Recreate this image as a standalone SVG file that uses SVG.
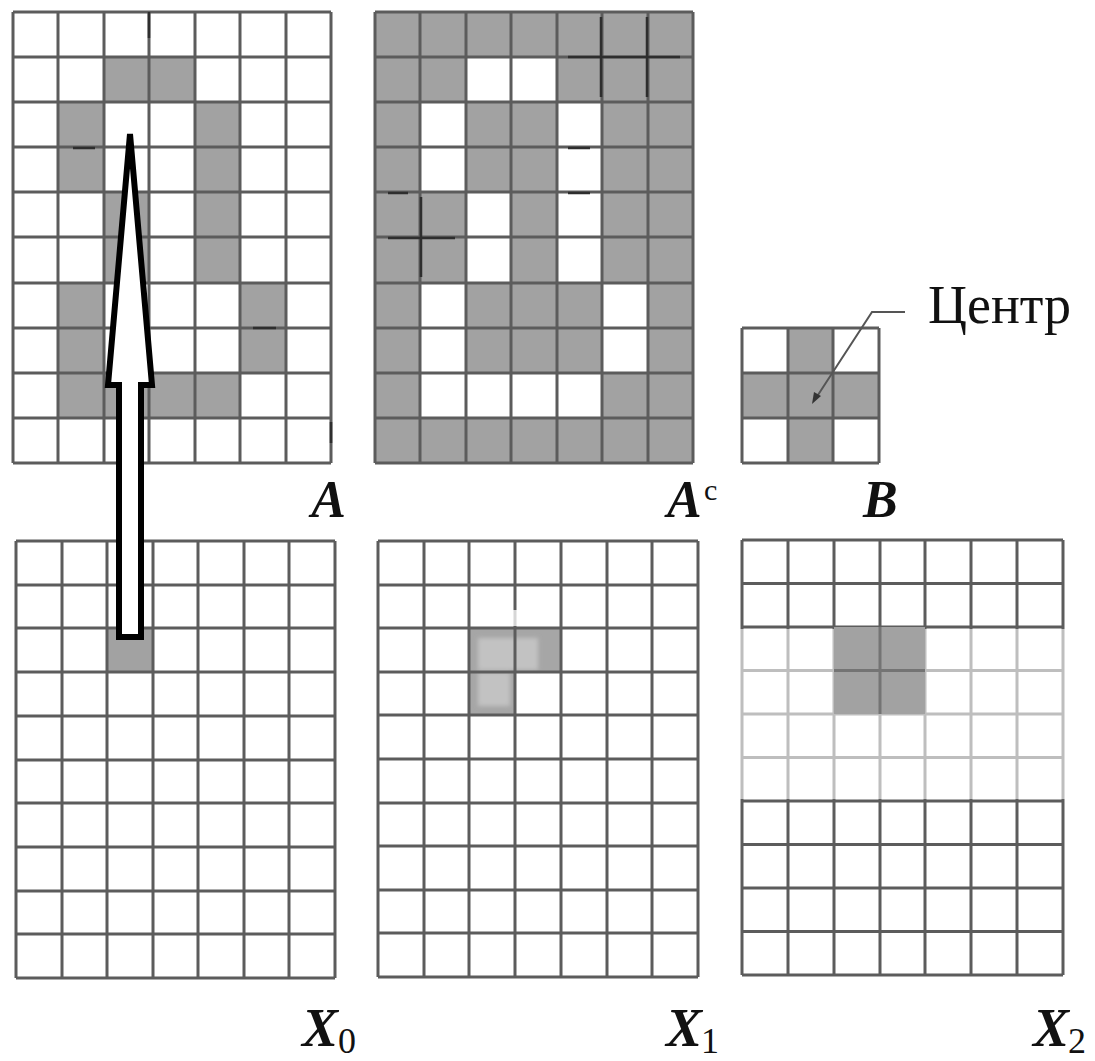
<svg xmlns="http://www.w3.org/2000/svg" width="1095" height="1061" viewBox="0 0 1095 1061">
<defs>
<style>
.grid{fill:none;stroke:#5c5c5c;stroke-width:3}
.cell{fill:#a2a2a2}
.white{fill:#ffffff}
.art{stroke:#2e2e2e;stroke-width:2.5;fill:none}
.lbl{font-family:"Liberation Serif","Times New Roman",serif;font-weight:bold;font-style:italic;fill:#111}
.sub{font-family:"Liberation Serif","Times New Roman",serif;font-weight:normal;font-style:normal;fill:#111}
</style>
<filter id="soft" x="-10%" y="-10%" width="120%" height="120%"><feGaussianBlur stdDeviation="2"/></filter>
</defs>
<rect width="1095" height="1061" fill="#ffffff"/>

<g id="grid-A">
<rect class="cell" x="104" y="57" width="91" height="45"/>
<rect class="cell" x="58" y="102" width="46" height="90"/>
<rect class="cell" x="195" y="102" width="45" height="181"/>
<rect class="cell" x="104" y="192" width="45" height="91"/>
<rect class="cell" x="58" y="283" width="46" height="135"/>
<rect class="cell" x="240" y="283" width="46" height="90"/>
<rect class="cell" x="104" y="373" width="136" height="45"/>
<path class="grid" d="M13 12V463M58 12V463M104 12V463M149 12V463M195 12V463M240 12V463M286 12V463M331 12V463M13 12H331M13 57H331M13 102H331M13 147H331M13 192H331M13 237H331M13 283H331M13 328H331M13 373H331M13 418H331M13 463H331"/>
<path class="art" d="M73 148H95M253 328H276M149 12V38M331 422V443"/>
</g>

<g id="grid-Ac">
<rect class="cell" x="375" y="12" width="318" height="451"/>
<rect class="white" x="466" y="57" width="91" height="45"/>
<rect class="white" x="420" y="102" width="46" height="90"/>
<rect class="white" x="557" y="102" width="45" height="181"/>
<rect class="white" x="466" y="192" width="45" height="91"/>
<rect class="white" x="420" y="283" width="46" height="135"/>
<rect class="white" x="602" y="283" width="46" height="90"/>
<rect class="white" x="466" y="373" width="136" height="45"/>
<path class="grid" d="M375 12V463M420 12V463M466 12V463M511 12V463M557 12V463M602 12V463M648 12V463M693 12V463M375 12H693M375 57H693M375 102H693M375 147H693M375 192H693M375 237H693M375 283H693M375 328H693M375 373H693M375 418H693M375 463H693"/>
<path class="art" d="M568 57H680M601 17V97M647 17V97M568 148H590M568 193H590M388 193H408M388 238H455M421 197V277"/>
</g>

<g id="grid-B">
<rect class="cell" x="788" y="328" width="45" height="135"/>
<rect class="cell" x="742" y="373" width="137" height="45"/>
<path class="grid" d="M742 328V463M788 328V463M833 328V463M879 328V463M742 328H879M742 373H879M742 418H879M742 463H879"/>
</g>

<g id="grid-X0">
<rect class="cell" x="107" y="628" width="46" height="44"/>
<path class="grid" d="M16 541V978M62 541V978M107 541V978M153 541V978M198 541V978M244 541V978M289 541V978M335 541V978M16 541H335M16 585H335M16 628H335M16 672H335M16 716H335M16 760H335M16 803H335M16 847H335M16 891H335M16 934H335M16 978H335"/>
</g>

<g id="grid-X1">
<path d="M469 628H561V672H515V715H469Z" fill="#a6a6a6"/>
<g filter="url(#soft)" fill="#c2c2c2">
<rect x="478" y="638" width="60" height="32"/>
<rect x="478" y="672" width="32" height="34"/>
</g>
<path class="grid" d="M378 541V977M424 541V977M469 541V977M515 541V977M561 541V977M607 541V977M652 541V977M698 541V977M378 541H698M378 585H698M378 628H698M378 672H698M378 715H698M378 759H698M378 803H698M378 846H698M378 890H698M378 933H698M378 977H698"/>
<rect x="512" y="610" width="6" height="16" fill="#ffffff" opacity="0.75"/>
</g>

<g id="grid-X2">
<path class="grid" d="M742 540V975M788 540V975M834 540V975M880 540V975M925 540V975M971 540V975M1017 540V975M1063 540V975M742 540H1063M742 583.5H1063M742 627H1063M742 670.5H1063M742 714H1063M742 757.5H1063M742 801H1063M742 844.5H1063M742 888H1063M742 931.5H1063M742 975H1063"/>
<rect x="738" y="629" width="330" height="170" fill="#ffffff" opacity="0.6"/>
<rect x="834" y="627" width="91" height="87" fill="#a2a2a2"/>
<path d="M880 627V714M834 670.5H925" fill="none" stroke="#747474" stroke-width="3"/>
</g>

<g id="connectors">
<polygon points="130,134 152,385 141,385 141,637 119,637 119,385 108,385" fill="#ffffff" stroke="#000000" stroke-width="6"/>
<polyline points="816,398 872,312 905,312" fill="none" stroke="#555555" stroke-width="2"/>
<polygon points="812,404 814,392 821,396" fill="#333333"/>
</g>

<g id="labels">
<text class="sub" x="928" y="323" font-size="54">Центр</text>
<text class="lbl" x="346" y="517" font-size="52" text-anchor="end">A</text>
<text class="lbl" x="667" y="517" font-size="52">A</text>
<text class="sub" x="704" y="500" font-size="30" font-style="italic">c</text>
<text class="lbl" x="863" y="517" font-size="52">B</text>
<text class="lbl" x="302" y="1046" font-size="54">X</text>
<text class="sub" x="338" y="1053" font-size="36">0</text>
<text class="lbl" x="666" y="1046" font-size="54">X</text>
<text class="sub" x="701" y="1053" font-size="36">1</text>
<text class="lbl" x="1033" y="1046" font-size="54">X</text>
<text class="sub" x="1068" y="1053" font-size="36">2</text>
</g>
</svg>
